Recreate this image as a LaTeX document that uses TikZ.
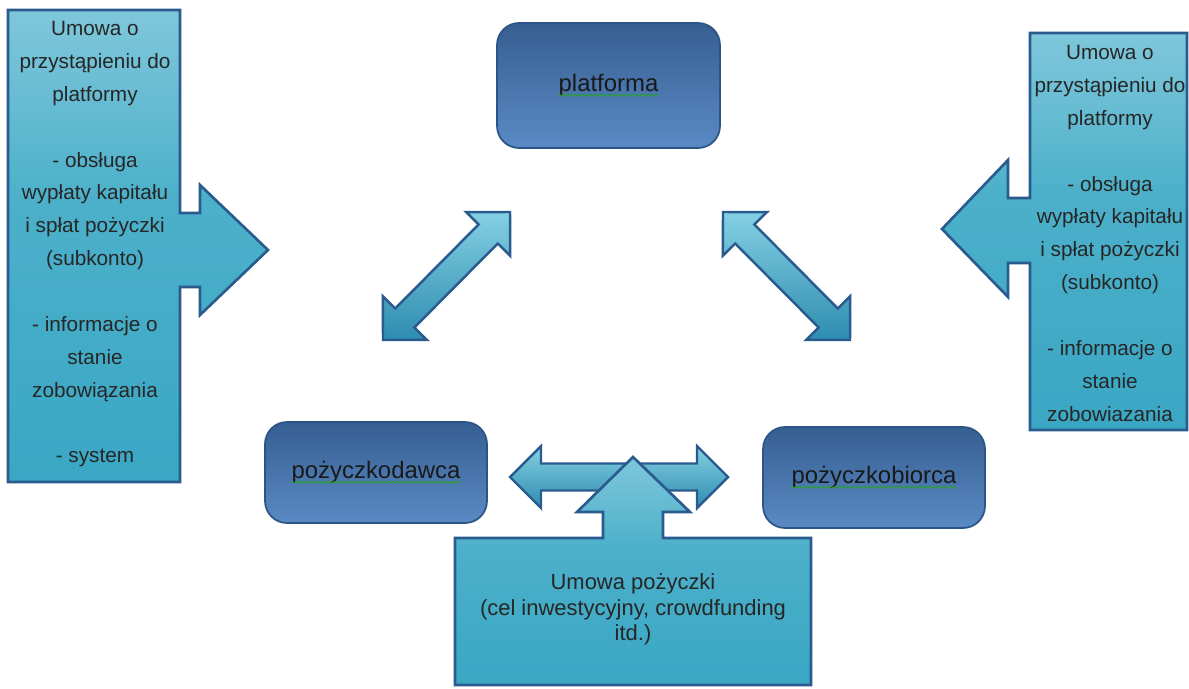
\documentclass[tikz,border=0pt]{standalone}
\usepackage{fontspec}
\setmainfont{Liberation Sans}
\usetikzlibrary{calc,decorations.pathmorphing}

\definecolor{boxtop}{HTML}{365F91}
\definecolor{boxbot}{HTML}{5A8AC4}
\definecolor{boxline}{HTML}{2C5486}
\definecolor{infolight}{HTML}{7FC7DB}
\definecolor{infomid}{HTML}{4CB0CA}
\definecolor{infodark}{HTML}{3AA7C4}
\definecolor{arrowtop}{HTML}{84D0E3}
\definecolor{arrowbot}{HTML}{2E8CAF}
\definecolor{arrowline}{HTML}{2A5B8E}
\definecolor{spellgreen}{HTML}{2CA02C}

\pgfdeclareverticalshading{infoshade}{100bp}{color(0bp)=(infodark); color(25bp)=(infodark); color(55bp)=(infomid); color(75bp)=(infolight); color(100bp)=(infolight)}

\tikzset{
 boxnode/.style={draw=boxline, line width=1pt, rounded corners=0.44cm, top color=boxtop, bottom color=boxbot},
 boxtext/.style={inner sep=0pt, font=\fontsize{13.6}{16}\selectfont, text=black!90},
 infobox/.style={draw=arrowline, line width=1.5pt, shading=infoshade},
 infotext/.style={inner sep=0pt, align=center, font=\fontsize{11.8}{18.7}\selectfont, text=black!85},
 blockarrow/.style={draw=arrowline, line width=1.4pt, top color=arrowtop, bottom color=arrowbot},
 spelling/.style={draw=spellgreen, line width=0.5pt, decorate, decoration={snake, amplitude=0.5pt, segment length=2.2pt}}
}

% two-headed block arrow between two coordinates
\newcommand\blockpair[2]{%
 \coordinate (ha) at ($(#1)!0.62cm!(#2)$);
 \coordinate (hb) at ($(#2)!0.62cm!(#1)$);
 \draw[blockarrow] (#1) -- ($(ha)!0.62cm!90:(#2)$) -- ($(ha)!0.27cm!90:(#2)$)
   -- ($(hb)!0.27cm!-90:(#1)$) -- ($(hb)!0.62cm!-90:(#1)$) -- (#2)
   -- ($(hb)!0.62cm!90:(#1)$) -- ($(hb)!0.27cm!90:(#1)$)
   -- ($(ha)!0.27cm!-90:(#2)$) -- ($(ha)!0.62cm!-90:(#2)$) -- cycle;}

\begin{document}
\begin{tikzpicture}[x=0.02cm, y=-0.02cm]
 \useasboundingbox (0,0) rectangle (1189,689);

 % boxes
 \node[boxnode, minimum width=4.46cm, minimum height=2.5cm] (platform) at (608.5,85.5) {};
 \node[boxtext] (platformtext) at (platform) {platforma};
 \draw[spelling] ([yshift=-2pt]platformtext.base west) -- ([yshift=-2pt]platformtext.base east);

 \node[boxnode, minimum width=4.44cm, minimum height=2.02cm] (lender) at (376,472.5) {};
 \node[boxtext] (lendertext) at (lender) {pożyczkodawca};
 \draw[spelling] ([yshift=-2pt]lendertext.base west) -- ([yshift=-2pt]lendertext.base east);

 \node[boxnode, minimum width=4.44cm, minimum height=2.02cm] (borrower) at (874,477.5) {};
 \node[boxtext] (borrowertext) at (borrower) {pożyczkobiorca};
 \draw[spelling] ([yshift=-2pt]borrowertext.base west) -- ([yshift=-2pt]borrowertext.base east);

 % arrows
 \coordinate (upl) at (510,212);
 \coordinate (lowl) at (383,340);
 \coordinate (upr) at (723,212);
 \coordinate (lowr) at (850,340);
 \coordinate (hleft) at (510,477);
 \coordinate (hright) at (728,477);
 \blockpair{lowl}{upl}
 \blockpair{upr}{lowr}
 \blockpair{hleft}{hright}

 % left info
 \draw[infobox] (8,10) -- (180,10) -- (180,213) -- (200,213) -- (200,185) -- (268,250) -- (200,315)
   -- (200,287) -- (180,287) -- (180,482) -- (8,482) -- cycle;
 \node[infotext, anchor=north] (lefttext) at (95,21) {Umowa o\\przystąpieniu do\\platformy\\[18.7pt]- obsługa\\wypłaty kapitału\\i spłat pożyczki\\(subkonto)\\[18.7pt]- informacje o\\stanie\\zobowiązania\\[18.7pt]- system};

 % right info
 \draw[infobox] (1030,33) -- (1187,33) -- (1187,430) -- (1030,430) -- (1030,263) -- (1008,263) -- (1008,297)
   -- (942,229) -- (1008,160) -- (1008,198) -- (1030,198) -- cycle;
 \node[infotext, anchor=north] (righttext) at (1110,45) {Umowa o\\przystąpieniu do\\platformy\\[18.7pt]- obsługa\\wypłaty kapitału\\i spłat pożyczki\\(subkonto)\\[18.7pt]- informacje o\\stanie\\zobowiazania};

 % loan agreement
 \draw[infobox] (455,538) -- (603,538) -- (603,512) -- (577,512) -- (633,457) -- (690,512) -- (663,512)
   -- (663,538) -- (811,538) -- (811,685) -- (455,685) -- cycle;
 \node[infotext, font=\fontsize{12.5}{14.7}\selectfont, anchor=north] (loantext) at (633,573) {Umowa pożyczki\\(cel inwestycyjny, crowdfunding\\itd.)};
\end{tikzpicture}
\end{document}
